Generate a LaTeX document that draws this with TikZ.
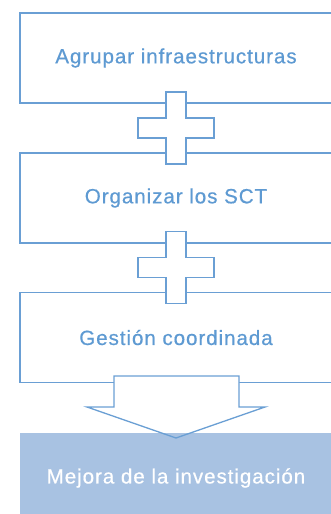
\documentclass[tikz,border=0pt]{standalone}
\usepackage{fontspec}
\setmainfont{Liberation Sans}[LetterSpace=4.5, FakeBold=0.6]
\definecolor{lineblue}{HTML}{6A9FD4}
\definecolor{textblue}{HTML}{5E9AD2}
\definecolor{fillblue}{HTML}{A8C2E2}
\begin{document}
\begin{tikzpicture}[x=1pt,y=-1pt,
  stagebox/.style={draw=lineblue, line width=1.3pt, rectangle, minimum width=312pt, minimum height=90pt, inner sep=0pt, text=textblue, font=\fontsize{20.6}{24}\selectfont},
  resultbox/.style={fill=fillblue, rectangle, minimum width=312pt, minimum height=90pt, inner sep=0pt, text=white, font=\fontsize{20.6}{24}\selectfont},
  shapeline/.style={draw=lineblue, line width=1.3pt, line join=miter}]
\useasboundingbox (0,0) rectangle (331,514);
\node[stagebox] (b1) at (176,58) {Agrupar infraestructuras};
\node[stagebox] (b2) at (176,198) {Organizar los SCT};
\node[stagebox] (b3) at (176,337.5) {Gestión coordinada};
% crosses
\foreach \cy in {128,267.5}{
  \filldraw[shapeline, fill=white] (166,\cy-36) -- (186,\cy-36) -- (186,\cy-10) -- (214,\cy-10) -- (214,\cy+10) -- (186,\cy+10) -- (186,\cy+36) -- (166,\cy+36) -- (166,\cy+10) -- (138,\cy+10) -- (138,\cy-10) -- (166,\cy-10) -- cycle;
}
% arrow fill
\fill[white] (114,376) -- (239,376) -- (239,407) -- (265,407) -- (176,438) -- (87,407) -- (114,407) -- cycle;
\node[resultbox] (b4) at (176,478) {Mejora de la investigación};
\draw[shapeline] (114,376) -- (239,376) -- (239,407) -- (265,407) -- (176,438) -- (87,407) -- (114,407) -- cycle;
\end{tikzpicture}
\end{document}
